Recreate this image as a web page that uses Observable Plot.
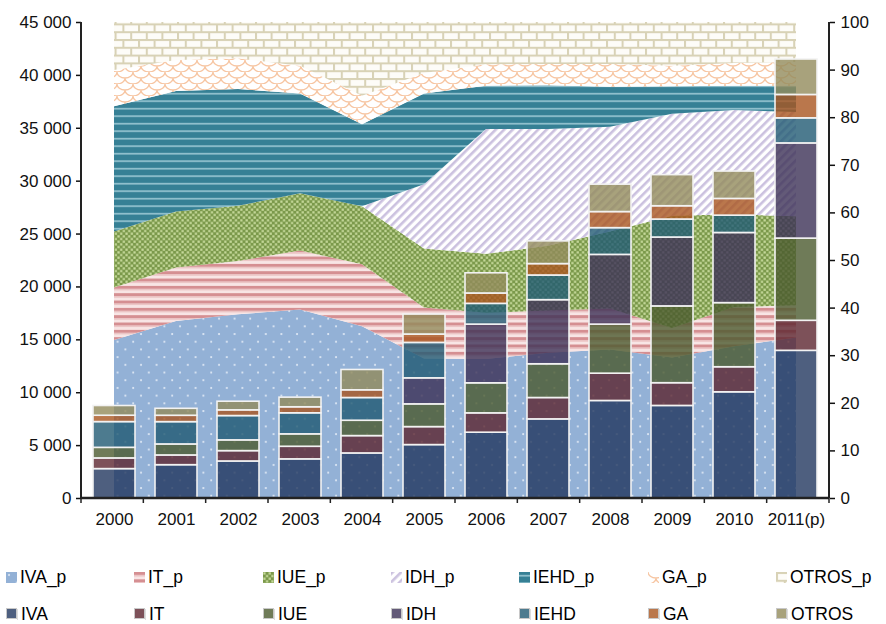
<!DOCTYPE html>
<html><head><meta charset="utf-8">
<script src="https://cdn.jsdelivr.net/npm/d3@7"></script>
<script src="https://cdn.jsdelivr.net/npm/@observablehq/plot@0.6"></script>
<style>
body{margin:0;background:#fff;font-family:"Liberation Sans",Arial,sans-serif;}
#chart{position:relative;width:886px;height:624px;overflow:hidden;}
.row{position:absolute;left:0;width:886px;height:24px;}
.item{position:absolute;top:0;height:24px;display:flex;align-items:center;font-size:19px;color:#000;white-space:nowrap;}
.item span{display:inline-block;transform:scaleX(0.92);transform-origin:left center;}
.item svg{margin-right:3px;}
</style></head><body><div id="chart"></div>
<script>
// ---- data ----
const years = ["2000","2001","2002","2003","2004","2005","2006","2007","2008","2009","2010","2011(p)"];

// bars (left axis, absolute values)
const IVA   = [2780, 3150, 3500, 3700, 4260, 5050, 6220, 7480, 9220, 8750, 10040, 13960];
const IT    = [1010,  920,  980, 1190, 1640, 1700, 1830, 2020, 2580, 2150,  2370,  2840];
const IUE   = [1000, 1040, 1015, 1175, 1450, 2150, 2840, 3190, 4640, 7260,  6060,  7770];
const IDH   = [   0,    0,    0,    0,    0, 2460, 5550, 6060, 6590, 6510,  6630,  9000];
const IEHD  = [2435, 2110, 2300, 1990, 2150, 3350, 1960, 2330, 2530, 1700,  1640,  2370];
const GA    = [ 600,  600,  540,  570,  730,  790,  980, 1080, 1520, 1260,  1580,  2210];
const OTROS = [ 920,  660,  815,  910, 1920, 1890, 1910, 2150, 2590, 2940,  2590,  3350];

// areas (right axis, percent shares)
const IVA_p   = [33.2, 37.2, 38.6, 39.6, 36.1, 29.3, 29.2, 30.5, 31.2, 29.5, 31.9, 33.7];
const IT_p    = [11.0, 11.2, 11.2, 12.4, 13.0, 10.7,  9.7,  8.9,  8.6,  6.2,  8.2,  6.8];
const IUE_p   = [11.8, 11.8, 11.6, 12.0, 12.2, 12.4, 12.4, 13.6, 16.2, 23.6, 19.5, 18.7];
const IDH_p   = [ 0.0,  0.0,  0.0,  0.0,  0.0, 13.5, 26.2, 24.5, 22.0, 21.4, 21.9, 21.9];
const IEHD_p  = [26.3, 25.3, 24.5, 21.0, 17.2, 19.1,  9.1,  9.2,  8.4,  5.8,  5.1,  5.5];
const GA_p    = [ 7.6,  6.5,  6.5,  5.8,  6.0,  4.3,  4.5,  4.5,  4.8,  4.3,  4.8,  5.0];
const OTROS_p = [10.1,  8.0,  7.6,  9.2, 15.5, 10.7,  8.9,  8.8,  8.8,  9.2,  8.6,  8.4];

const leftTicks  = [0, 5000, 10000, 15000, 20000, 25000, 30000, 35000, 40000, 45000];
const rightTicks = [0, 10, 20, 30, 40, 50, 60, 70, 80, 90, 100];

const barSeries  = ["IVA","IT","IUE","IDH","IEHD","GA","OTROS"];
const barValues  = [IVA, IT, IUE, IDH, IEHD, GA, OTROS];
const areaSeries = ["IVA_p","IT_p","IUE_p","IDH_p","IEHD_p","GA_p","OTROS_p"];
const areaValues = [IVA_p, IT_p, IUE_p, IDH_p, IEHD_p, GA_p, OTROS_p];
const barColors  = {IVA:"#22375f", IT:"#5c2630", IUE:"#4b5a2e", IDH:"#3c3156", IEHD:"#215a73", GA:"#a9551f", OTROS:"#928b5b"};

const LEFT_MAX = 45000, RIGHT_MAX = 100, K = LEFT_MAX / RIGHT_MAX;

const barData = [];
barSeries.forEach((s, j) => years.forEach((y, i) => {
  if (barValues[j][i] > 0) barData.push({year: y, series: s, value: barValues[j][i]});
}));
const areaData = [];
areaSeries.forEach((s, j) => years.forEach((y, i) => {
  areaData.push({year: y, series: s, pct: areaValues[j][i]});
}));

const patternDefs = `
<pattern id="p-IVA_p" patternUnits="userSpaceOnUse" width="15.6" height="15.4">
  <rect width="15.6" height="15.4" fill="#93b1d6"/>
  <circle cx="3" cy="3" r="1" fill="#e6eef8"/><circle cx="10.8" cy="10.7" r="1" fill="#e6eef8"/>
</pattern>
<pattern id="p-IT_p" patternUnits="userSpaceOnUse" width="10" height="7.33">
  <rect width="10" height="7.33" fill="#f8e5e5"/>
  <rect y="0" width="10" height="3" fill="#d58f92"/>
  <rect y="3" width="10" height="1.4" fill="#eac0c0"/>
</pattern>
<pattern id="p-IUE_p" patternUnits="userSpaceOnUse" width="5.34" height="5.34">
  <rect width="5.34" height="5.34" fill="#7b994b"/>
  <rect x="0.3" y="0.3" width="2.2" height="2.2" fill="#cadd9f"/>
  <rect x="2.97" y="2.97" width="2.2" height="2.2" fill="#cadd9f"/>
</pattern>
<pattern id="p-IDH_p" patternUnits="userSpaceOnUse" width="6" height="6" patternTransform="rotate(45)">
  <rect width="6" height="6" fill="#ffffff"/>
  <rect width="2.6" height="6" fill="#cbc1df"/>
</pattern>
<pattern id="p-IEHD_p" patternUnits="userSpaceOnUse" width="10" height="7.5">
  <rect width="10" height="7.5" fill="#368095"/>
  <rect y="3" width="10" height="1.4" fill="#a8d1dc"/>
</pattern>
<pattern id="p-GA_p" patternUnits="userSpaceOnUse" width="16" height="12">
  <rect width="16" height="12" fill="#ffffff"/>
  <path d="M-8,6 A8,6 0 0 0 8,6 A8,6 0 0 0 24,6 M0,12 A8,6 0 0 0 16,12 M0,0 A8,6 0 0 0 16,0" fill="none" stroke="#f7c6a3" stroke-width="1.3"/>
</pattern>
<pattern id="p-OTROS_p" patternUnits="userSpaceOnUse" width="15.6" height="15.6">
  <rect width="15.6" height="15.6" fill="#fdfcf8"/>
  <rect x="0" y="0" width="15.6" height="2" fill="#d8d2b6"/>
  <rect x="0" y="7.8" width="15.6" height="2" fill="#d8d2b6"/>
  <rect x="0" y="0" width="2" height="7.8" fill="#d8d2b6"/>
  <rect x="7.8" y="7.8" width="2" height="7.8" fill="#d8d2b6"/>
</pattern>`;

const fmtLeft = d => d3.format(",")(d).replace(/,/g, " ");

const chart = Plot.plot({
  width: 886,
  height: 545,
  marginTop: 22,
  marginBottom: 47,
  marginLeft: 81,
  marginRight: 57,
  style: {fontFamily: "Liberation Sans, Arial, sans-serif", fontSize: "17px", color: "#111", background: "#fff"},
  x: {domain: years, paddingInner: 0.315, paddingOuter: 0.1575, label: null},
  y: {domain: [0, LEFT_MAX], label: null},
  color: {type: "identity"},
  marks: [
    Plot.areaY(areaData, Plot.stackY({
      x: "year", y: d => d.pct * K, z: "series",
      fill: d => `url(#p-${d.series})`
    })),
    Plot.barY(barData, Plot.stackY({
      x: "year", y: "value", z: "series",
      fill: d => barColors[d.series], fillOpacity: 0.8,
      stroke: "#f2f2f2", strokeWidth: 1.6
    })),
    Plot.axisY(leftTicks, {anchor: "left", tickFormat: fmtLeft, tickSize: 5, tickPadding: 5, strokeWidth: 1.5, label: null}),
    Plot.axisY(rightTicks.map(v => v * K), {anchor: "right", tickFormat: d => String(Math.round(d / K)), tickSize: 5, tickPadding: 6, strokeWidth: 1.5, label: null}),
    Plot.axisX({tickSize: 0, tickPadding: 14, label: null})
  ]
});

d3.select(chart).insert("defs", ":first-child").html(patternDefs);

// axis lines and band-boundary ticks from the scales
const xs = chart.scale("x"), ys = chart.scale("y");
const [x0, x1] = xs.range, [yb, yt] = ys.range;
const g = d3.select(chart).append("g").attr("stroke", "#222");
g.append("line").attr("x1", x0).attr("x2", x0).attr("y1", yt).attr("y2", yb).attr("stroke-width", 2);
g.append("line").attr("x1", x1).attr("x2", x1).attr("y1", yt).attr("y2", yb).attr("stroke-width", 2);
g.append("line").attr("x1", x0).attr("x2", x1).attr("y1", yb).attr("y2", yb).attr("stroke-width", 2.5);
const step = (x1 - x0) / years.length;
for (let i = 0; i <= years.length; i++) {
  g.append("line").attr("x1", x0 + i * step).attr("x2", x0 + i * step).attr("y1", yb).attr("y2", yb + 5).attr("stroke-width", 1.5);
}

const root = document.getElementById("chart");
root.appendChild(chart);

// legend
function addRow(names, top, swatch) {
  const row = document.createElement("div");
  row.className = "row"; row.style.top = top + "px";
  names.forEach((n, i) => {
    const it = document.createElement("div");
    it.className = "item"; it.style.left = (6 + i * 128.3) + "px";
    it.innerHTML = swatch(n) + `<span>${n}</span>`;
    row.appendChild(it);
  });
  root.appendChild(row);
}
addRow(areaSeries, 565, n => `<svg width="11" height="11"><rect width="11" height="11" fill="url(#p-${n})"/></svg>`);
addRow(barSeries, 602, n => `<svg width="12" height="12"><rect x="0.5" y="0.5" width="10" height="10" fill="${barColors[n]}" fill-opacity="0.8" stroke="#c8c8c8"/><line x1="11.5" y1="1" x2="11.5" y2="12" stroke="#ddd"/></svg>`);
</script>
</body></html>
